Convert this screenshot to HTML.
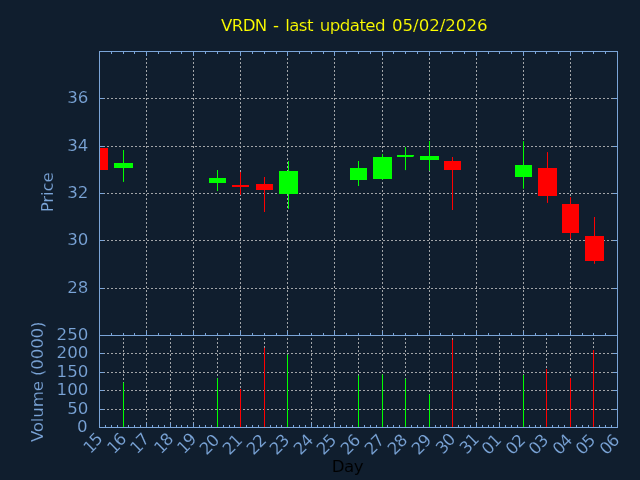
<!DOCTYPE html>
<html lang="en"><head><meta charset="utf-8"><title>VRDN - last updated 05/02/2026</title>
<style>html,body{margin:0;padding:0;background:#101e2e;overflow:hidden}svg{display:block;will-change:transform}text{font-family:"DejaVu Sans", "Liberation Sans", sans-serif;font-size:16.67px}</style></head><body>
<svg width="640" height="480" viewBox="0 0 640 480">
<rect width="640" height="480" fill="#101e2e"/>
<g stroke="#a2a5a8" stroke-width="1" stroke-dasharray="2 2" stroke-dashoffset="0.5" fill="none">
<path d="M99.5 98.5H617.5"/>
<path d="M99.5 146.5H617.5"/>
<path d="M99.5 193.5H617.5"/>
<path d="M99.5 240.5H617.5"/>
<path d="M99.5 288.5H617.5"/>
<path d="M99.5 353.5H617.5"/>
<path d="M99.5 372.5H617.5"/>
<path d="M99.5 390.5H617.5"/>
<path d="M99.5 409.5H617.5"/>
<path d="M146.5 335.5V51.5"/>
<path d="M193.5 335.5V51.5"/>
<path d="M240.5 335.5V51.5"/>
<path d="M287.5 335.5V51.5"/>
<path d="M334.5 335.5V51.5"/>
<path d="M382.5 335.5V51.5"/>
<path d="M429.5 335.5V51.5"/>
<path d="M476.5 335.5V51.5"/>
<path d="M523.5 335.5V51.5"/>
<path d="M570.5 335.5V51.5"/>
<path d="M123.5 427.5V335.5"/>
<path d="M146.5 427.5V335.5"/>
<path d="M170.5 427.5V335.5"/>
<path d="M193.5 427.5V335.5"/>
<path d="M217.5 427.5V335.5"/>
<path d="M240.5 427.5V335.5"/>
<path d="M264.5 427.5V335.5"/>
<path d="M287.5 427.5V335.5"/>
<path d="M311.5 427.5V335.5"/>
<path d="M334.5 427.5V335.5"/>
<path d="M358.5 427.5V335.5"/>
<path d="M382.5 427.5V335.5"/>
<path d="M405.5 427.5V335.5"/>
<path d="M429.5 427.5V335.5"/>
<path d="M452.5 427.5V335.5"/>
<path d="M476.5 427.5V335.5"/>
<path d="M499.5 427.5V335.5"/>
<path d="M523.5 427.5V335.5"/>
<path d="M546.5 427.5V335.5"/>
<path d="M570.5 427.5V335.5"/>
<path d="M593.5 427.5V335.5"/>
</g>
<g stroke="#7ba5d8" stroke-width="1" fill="none">
<path d="M111.5 51.5v2.5"/>
<path d="M111.5 335.5v-2.5"/>
<path d="M123.5 51.5v2.5"/>
<path d="M123.5 335.5v-2.5"/>
<path d="M134.5 51.5v2.5"/>
<path d="M134.5 335.5v-2.5"/>
<path d="M146.5 51.5v4.5"/>
<path d="M146.5 335.5v-4.5"/>
<path d="M158.5 51.5v2.5"/>
<path d="M158.5 335.5v-2.5"/>
<path d="M170.5 51.5v2.5"/>
<path d="M170.5 335.5v-2.5"/>
<path d="M181.5 51.5v2.5"/>
<path d="M181.5 335.5v-2.5"/>
<path d="M193.5 51.5v4.5"/>
<path d="M193.5 335.5v-4.5"/>
<path d="M205.5 51.5v2.5"/>
<path d="M205.5 335.5v-2.5"/>
<path d="M217.5 51.5v2.5"/>
<path d="M217.5 335.5v-2.5"/>
<path d="M229.5 51.5v2.5"/>
<path d="M229.5 335.5v-2.5"/>
<path d="M240.5 51.5v4.5"/>
<path d="M240.5 335.5v-4.5"/>
<path d="M252.5 51.5v2.5"/>
<path d="M252.5 335.5v-2.5"/>
<path d="M264.5 51.5v2.5"/>
<path d="M264.5 335.5v-2.5"/>
<path d="M276.5 51.5v2.5"/>
<path d="M276.5 335.5v-2.5"/>
<path d="M287.5 51.5v4.5"/>
<path d="M287.5 335.5v-4.5"/>
<path d="M299.5 51.5v2.5"/>
<path d="M299.5 335.5v-2.5"/>
<path d="M311.5 51.5v2.5"/>
<path d="M311.5 335.5v-2.5"/>
<path d="M323.5 51.5v2.5"/>
<path d="M323.5 335.5v-2.5"/>
<path d="M334.5 51.5v4.5"/>
<path d="M334.5 335.5v-4.5"/>
<path d="M346.5 51.5v2.5"/>
<path d="M346.5 335.5v-2.5"/>
<path d="M358.5 51.5v2.5"/>
<path d="M358.5 335.5v-2.5"/>
<path d="M370.5 51.5v2.5"/>
<path d="M370.5 335.5v-2.5"/>
<path d="M382.5 51.5v4.5"/>
<path d="M382.5 335.5v-4.5"/>
<path d="M393.5 51.5v2.5"/>
<path d="M393.5 335.5v-2.5"/>
<path d="M405.5 51.5v2.5"/>
<path d="M405.5 335.5v-2.5"/>
<path d="M417.5 51.5v2.5"/>
<path d="M417.5 335.5v-2.5"/>
<path d="M429.5 51.5v4.5"/>
<path d="M429.5 335.5v-4.5"/>
<path d="M440.5 51.5v2.5"/>
<path d="M440.5 335.5v-2.5"/>
<path d="M452.5 51.5v2.5"/>
<path d="M452.5 335.5v-2.5"/>
<path d="M464.5 51.5v2.5"/>
<path d="M464.5 335.5v-2.5"/>
<path d="M476.5 51.5v4.5"/>
<path d="M476.5 335.5v-4.5"/>
<path d="M488.5 51.5v2.5"/>
<path d="M488.5 335.5v-2.5"/>
<path d="M499.5 51.5v2.5"/>
<path d="M499.5 335.5v-2.5"/>
<path d="M511.5 51.5v2.5"/>
<path d="M511.5 335.5v-2.5"/>
<path d="M523.5 51.5v4.5"/>
<path d="M523.5 335.5v-4.5"/>
<path d="M535.5 51.5v2.5"/>
<path d="M535.5 335.5v-2.5"/>
<path d="M546.5 51.5v2.5"/>
<path d="M546.5 335.5v-2.5"/>
<path d="M558.5 51.5v2.5"/>
<path d="M558.5 335.5v-2.5"/>
<path d="M570.5 51.5v4.5"/>
<path d="M570.5 335.5v-4.5"/>
<path d="M582.5 51.5v2.5"/>
<path d="M582.5 335.5v-2.5"/>
<path d="M593.5 51.5v2.5"/>
<path d="M593.5 335.5v-2.5"/>
<path d="M605.5 51.5v2.5"/>
<path d="M605.5 335.5v-2.5"/>
<path d="M105.5 427.5v-2.5"/>
<path d="M111.5 427.5v-2.5"/>
<path d="M117.5 427.5v-2.5"/>
<path d="M123.5 427.5v-4.5"/>
<path d="M128.5 427.5v-2.5"/>
<path d="M134.5 427.5v-2.5"/>
<path d="M140.5 427.5v-2.5"/>
<path d="M146.5 427.5v-4.5"/>
<path d="M152.5 427.5v-2.5"/>
<path d="M158.5 427.5v-2.5"/>
<path d="M164.5 427.5v-2.5"/>
<path d="M170.5 427.5v-4.5"/>
<path d="M176.5 427.5v-2.5"/>
<path d="M181.5 427.5v-2.5"/>
<path d="M187.5 427.5v-2.5"/>
<path d="M193.5 427.5v-4.5"/>
<path d="M199.5 427.5v-2.5"/>
<path d="M205.5 427.5v-2.5"/>
<path d="M211.5 427.5v-2.5"/>
<path d="M217.5 427.5v-4.5"/>
<path d="M223.5 427.5v-2.5"/>
<path d="M229.5 427.5v-2.5"/>
<path d="M234.5 427.5v-2.5"/>
<path d="M240.5 427.5v-4.5"/>
<path d="M246.5 427.5v-2.5"/>
<path d="M252.5 427.5v-2.5"/>
<path d="M258.5 427.5v-2.5"/>
<path d="M264.5 427.5v-4.5"/>
<path d="M270.5 427.5v-2.5"/>
<path d="M276.5 427.5v-2.5"/>
<path d="M281.5 427.5v-2.5"/>
<path d="M287.5 427.5v-4.5"/>
<path d="M293.5 427.5v-2.5"/>
<path d="M299.5 427.5v-2.5"/>
<path d="M305.5 427.5v-2.5"/>
<path d="M311.5 427.5v-4.5"/>
<path d="M317.5 427.5v-2.5"/>
<path d="M323.5 427.5v-2.5"/>
<path d="M329.5 427.5v-2.5"/>
<path d="M334.5 427.5v-4.5"/>
<path d="M340.5 427.5v-2.5"/>
<path d="M346.5 427.5v-2.5"/>
<path d="M352.5 427.5v-2.5"/>
<path d="M358.5 427.5v-4.5"/>
<path d="M364.5 427.5v-2.5"/>
<path d="M370.5 427.5v-2.5"/>
<path d="M376.5 427.5v-2.5"/>
<path d="M382.5 427.5v-4.5"/>
<path d="M387.5 427.5v-2.5"/>
<path d="M393.5 427.5v-2.5"/>
<path d="M399.5 427.5v-2.5"/>
<path d="M405.5 427.5v-4.5"/>
<path d="M411.5 427.5v-2.5"/>
<path d="M417.5 427.5v-2.5"/>
<path d="M423.5 427.5v-2.5"/>
<path d="M429.5 427.5v-4.5"/>
<path d="M435.5 427.5v-2.5"/>
<path d="M440.5 427.5v-2.5"/>
<path d="M446.5 427.5v-2.5"/>
<path d="M452.5 427.5v-4.5"/>
<path d="M458.5 427.5v-2.5"/>
<path d="M464.5 427.5v-2.5"/>
<path d="M470.5 427.5v-2.5"/>
<path d="M476.5 427.5v-4.5"/>
<path d="M482.5 427.5v-2.5"/>
<path d="M488.5 427.5v-2.5"/>
<path d="M493.5 427.5v-2.5"/>
<path d="M499.5 427.5v-4.5"/>
<path d="M505.5 427.5v-2.5"/>
<path d="M511.5 427.5v-2.5"/>
<path d="M517.5 427.5v-2.5"/>
<path d="M523.5 427.5v-4.5"/>
<path d="M529.5 427.5v-2.5"/>
<path d="M535.5 427.5v-2.5"/>
<path d="M540.5 427.5v-2.5"/>
<path d="M546.5 427.5v-4.5"/>
<path d="M552.5 427.5v-2.5"/>
<path d="M558.5 427.5v-2.5"/>
<path d="M564.5 427.5v-2.5"/>
<path d="M570.5 427.5v-4.5"/>
<path d="M576.5 427.5v-2.5"/>
<path d="M582.5 427.5v-2.5"/>
<path d="M588.5 427.5v-2.5"/>
<path d="M593.5 427.5v-4.5"/>
<path d="M599.5 427.5v-2.5"/>
<path d="M605.5 427.5v-2.5"/>
<path d="M611.5 427.5v-2.5"/>
<path d="M99.5 98.5h4.5"/>
<path d="M617.5 98.5h-4.5"/>
<path d="M99.5 146.5h4.5"/>
<path d="M617.5 146.5h-4.5"/>
<path d="M99.5 193.5h4.5"/>
<path d="M617.5 193.5h-4.5"/>
<path d="M99.5 240.5h4.5"/>
<path d="M617.5 240.5h-4.5"/>
<path d="M99.5 288.5h4.5"/>
<path d="M617.5 288.5h-4.5"/>
<path d="M99.5 353.5h4.5"/>
<path d="M617.5 353.5h-4.5"/>
<path d="M99.5 372.5h4.5"/>
<path d="M617.5 372.5h-4.5"/>
<path d="M99.5 390.5h4.5"/>
<path d="M617.5 390.5h-4.5"/>
<path d="M99.5 409.5h4.5"/>
<path d="M617.5 409.5h-4.5"/>
</g>
<path d="M123.5 427.5V382.5" stroke="#00ff00" stroke-width="1"/>
<path d="M217.5 427.5V378.2" stroke="#00ff00" stroke-width="1"/>
<path d="M240.5 427.5V388.9" stroke="#ff0000" stroke-width="1"/>
<path d="M264.5 427.5V347.8" stroke="#ff0000" stroke-width="1"/>
<path d="M287.5 427.5V354.6" stroke="#00ff00" stroke-width="1"/>
<path d="M358.5 427.5V375.5" stroke="#00ff00" stroke-width="1"/>
<path d="M382.5 427.5V374.5" stroke="#00ff00" stroke-width="1"/>
<path d="M405.5 427.5V378.7" stroke="#00ff00" stroke-width="1"/>
<path d="M429.5 427.5V394.5" stroke="#00ff00" stroke-width="1"/>
<path d="M452.5 427.5V339.8" stroke="#ff0000" stroke-width="1"/>
<path d="M523.5 427.5V374.9" stroke="#00ff00" stroke-width="1"/>
<path d="M546.5 427.5V369.0" stroke="#ff0000" stroke-width="1"/>
<path d="M570.5 427.5V378.0" stroke="#ff0000" stroke-width="1"/>
<path d="M593.5 427.5V350.0" stroke="#ff0000" stroke-width="1"/>
<clipPath id="cu"><rect x="99.5" y="51.5" width="518.0" height="284.0"/></clipPath>
<g clip-path="url(#cu)">
<path d="M99.5 148.0V170.0" stroke="#ff0000" stroke-width="1"/>
<rect x="91" y="148" width="17" height="22" fill="#ff0000"/>
<path d="M123.5 150.0V181.9" stroke="#00ff00" stroke-width="1"/>
<rect x="114" y="163" width="19" height="5" fill="#00ff00"/>
<path d="M217.5 170.0V191.0" stroke="#00ff00" stroke-width="1"/>
<rect x="209" y="178" width="17" height="5" fill="#00ff00"/>
<path d="M240.5 172.0V194.8" stroke="#ff0000" stroke-width="1"/>
<rect x="232" y="185" width="17" height="2" fill="#ff0000"/>
<path d="M264.5 177.0V212.0" stroke="#ff0000" stroke-width="1"/>
<rect x="256" y="184" width="17" height="6" fill="#ff0000"/>
<path d="M288.5 161.0V208.8" stroke="#00ff00" stroke-width="1"/>
<rect x="279" y="171" width="19" height="23" fill="#00ff00"/>
<path d="M358.5 161.0V186.0" stroke="#00ff00" stroke-width="1"/>
<rect x="350" y="168" width="17" height="12" fill="#00ff00"/>
<path d="M382.5 154.0V179.9" stroke="#00ff00" stroke-width="1"/>
<rect x="373" y="157" width="19" height="22" fill="#00ff00"/>
<path d="M405.5 147.1V170.1" stroke="#00ff00" stroke-width="1"/>
<path d="M397 155H414V156L413 157H397Z" fill="#00ff00"/>
<path d="M429.5 141.0V170.6" stroke="#00ff00" stroke-width="1"/>
<rect x="420" y="156" width="19" height="4" fill="#00ff00"/>
<path d="M452.5 157.0V210.0" stroke="#ff0000" stroke-width="1"/>
<rect x="444" y="161" width="17" height="9" fill="#ff0000"/>
<path d="M523.5 141.2V188.7" stroke="#00ff00" stroke-width="1"/>
<rect x="515" y="165" width="17" height="12" fill="#00ff00"/>
<path d="M547.5 152.1V202.9" stroke="#ff0000" stroke-width="1"/>
<rect x="538" y="168" width="19" height="28" fill="#ff0000"/>
<path d="M570.5 197.2V238.8" stroke="#ff0000" stroke-width="1"/>
<rect x="562" y="204" width="17" height="29" fill="#ff0000"/>
<path d="M594.5 217.0V263.8" stroke="#ff0000" stroke-width="1"/>
<rect x="585" y="236" width="19" height="25" fill="#ff0000"/>
</g>
<g stroke="#7ba5d8" stroke-width="1" fill="none" stroke-linecap="square">
<rect x="99.5" y="51.5" width="518.0" height="376.0"/>
<path d="M99.5 335.5H617.5"/>
</g>
<g>
<text y="30.8" fill="#ffff00" stroke="#101e2e" stroke-width="0.15" xml:space="preserve"><tspan x="221.1" letter-spacing="-0.7">VRDN</tspan><tspan x="267.6" letter-spacing="0"> - </tspan><tspan x="285.3" letter-spacing="-0.63">last</tspan><tspan x="314.5" letter-spacing="0"> </tspan><tspan x="319.8" letter-spacing="-0.58">updated</tspan><tspan x="386.7" letter-spacing="0"> </tspan><tspan x="392.0" letter-spacing="-0.05">05/02/2026</tspan></text>
<g fill="#7ba5d8" text-anchor="end" stroke="#101e2e" stroke-width="0.15">
<text x="88.4" y="103.0">36</text>
<text x="88.4" y="151.0">34</text>
<text x="88.4" y="198.0">32</text>
<text x="88.4" y="245.0">30</text>
<text x="88.4" y="293.0">28</text>
<text x="88.4" y="340.0">250</text>
<text x="88.4" y="358.0">200</text>
<text x="88.4" y="377.0">150</text>
<text x="88.4" y="395.0">100</text>
<text x="88.4" y="414.0">50</text>
<text x="87.5" y="432.0">0</text>
<text transform="translate(103.05 440.25) rotate(-45)" x="0" y="0" dx="1.1 -1.1" dy="1 -1">15</text>
<text transform="translate(126.65 440.65) rotate(-45)" x="0" y="0" dx="1.1 -1.1" dy="1 -1">16</text>
<text transform="translate(149.65 440.65) rotate(-45)" x="0" y="0" dx="1.1 -1.1" dy="1 -1">17</text>
<text transform="translate(173.65 440.65) rotate(-45)" x="0" y="0" dx="1.1 -1.1" dy="1 -1">18</text>
<text transform="translate(196.65 440.65) rotate(-45)" x="0" y="0" dx="1.1 -1.1" dy="1 -1">19</text>
<text transform="translate(219.75 441.55) rotate(-45)" x="0" y="0" dx="0.9 -0.9" dy="0.8 -0.8">20</text>
<text transform="translate(242.75 441.55) rotate(-45)" x="0" y="0" dx="0.9 -0.9" dy="0.8 -0.8">21</text>
<text transform="translate(266.75 441.55) rotate(-45)" x="0" y="0" dx="0.9 -0.9" dy="0.8 -0.8">22</text>
<text transform="translate(289.75 441.55) rotate(-45)" x="0" y="0" dx="0.9 -0.9" dy="0.8 -0.8">23</text>
<text transform="translate(313.75 441.55) rotate(-45)" x="0" y="0" dx="0.9 -0.9" dy="0.8 -0.8">24</text>
<text transform="translate(336.75 441.55) rotate(-45)" x="0" y="0" dx="0.9 -0.9" dy="0.8 -0.8">25</text>
<text transform="translate(360.75 441.55) rotate(-45)" x="0" y="0" dx="0.9 -0.9" dy="0.8 -0.8">26</text>
<text transform="translate(384.75 441.55) rotate(-45)" x="0" y="0" dx="0.9 -0.9" dy="0.8 -0.8">27</text>
<text transform="translate(407.75 441.55) rotate(-45)" x="0" y="0" dx="0.9 -0.9" dy="0.8 -0.8">28</text>
<text transform="translate(431.75 441.55) rotate(-45)" x="0" y="0" dx="0.9 -0.9" dy="0.8 -0.8">29</text>
<text transform="translate(455.95 440.75) rotate(-45)" x="0" y="0" dx="0.9 -0.9" dy="0.8 -0.8">30</text>
<text transform="translate(479.65 440.75) rotate(-45)" x="0" y="0" dx="0.9 -0.9" dy="0.8 -0.8">31</text>
<text transform="translate(501.75 441.45) rotate(-45)" x="0" y="0" dx="0.9 -0.9" dy="0.8 -0.8">01</text>
<text transform="translate(525.75 441.55) rotate(-45)" x="0" y="0" dx="0.9 -0.9" dy="0.8 -0.8">02</text>
<text transform="translate(548.75 441.55) rotate(-45)" x="0" y="0" dx="0.9 -0.9" dy="0.8 -0.8">03</text>
<text transform="translate(572.75 441.55) rotate(-45)" x="0" y="0" dx="0.9 -0.9" dy="0.8 -0.8">04</text>
<text transform="translate(595.75 441.55) rotate(-45)" x="0" y="0" dx="0.9 -0.9" dy="0.8 -0.8">05</text>
<text transform="translate(619.75 441.55) rotate(-45)" x="0" y="0" dx="0.9 -0.9" dy="0.8 -0.8">06</text>
</g>
<g fill="#7ba5d8" text-anchor="middle" stroke="#101e2e" stroke-width="0.15">
<text transform="translate(53.4 192.4) rotate(-90)" letter-spacing="-0.15">Price</text>
<text transform="translate(42.5 381.9) rotate(-90)" letter-spacing="-0.17">Volume (0000)</text>
</g>
<text x="347.5" y="471.6" text-anchor="middle" fill="#000000" stroke="#101e2e" stroke-width="0.15" letter-spacing="-0.4">Day</text>
</g>
</svg></body></html>
